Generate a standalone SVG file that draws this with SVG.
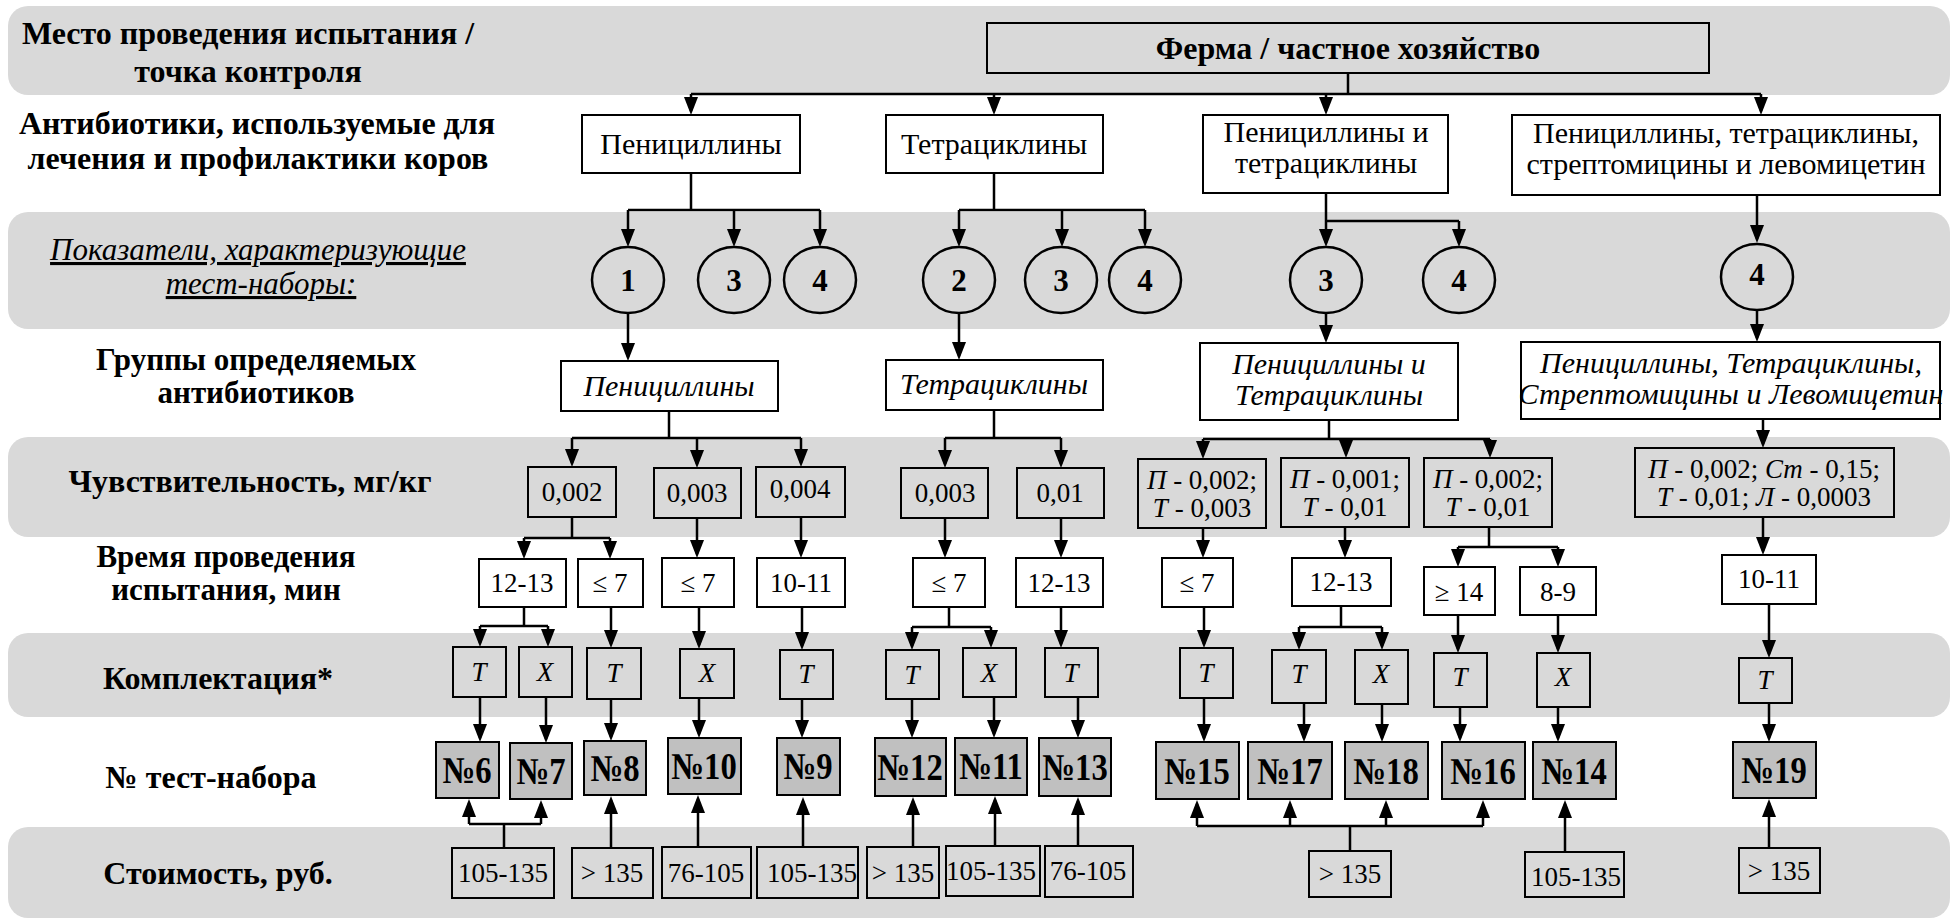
<svg xmlns="http://www.w3.org/2000/svg" width="1950" height="919" viewBox="0 0 1950 919">
<style>
.band{fill:#d9d9d9}
.box{fill:none;stroke:#000;stroke-width:2}
.num{fill:#c0c0c0;stroke:#000;stroke-width:2}
.ring{fill:none;stroke:#000;stroke-width:2.5}
.wire{fill:none;stroke:#000;stroke-width:2.5}
.arr{marker-end:url(#ah)}
text{font-family:"Liberation Serif","Times New Roman",serif;fill:#000}
.lbl{font-weight:bold;font-size:32px;text-anchor:middle}
.lbl2{font-weight:bold;font-size:31px;text-anchor:middle}
.cap{font-style:italic;font-size:31px;text-anchor:middle;text-decoration:underline}
.t{font-size:27px;text-anchor:middle}
.w{font-size:30px;text-anchor:middle}
.i{font-style:italic}
.b{font-weight:bold;font-size:32px;text-anchor:middle}
.d{font-weight:bold;font-size:31px;text-anchor:middle}
.nt{font-weight:bold;font-size:38px;text-anchor:middle}
</style>
<defs>
<marker id="ah" viewBox="0 0 18 14" markerWidth="18" markerHeight="14" refX="14" refY="7" orient="auto" markerUnits="userSpaceOnUse">
<path d="M0,0 L18,7 L0,14 z" fill="#000"/>
</marker>
</defs>

<!-- row bands -->
<g id="bands">
<rect class="band" x="8" y="6" width="1942" height="89" rx="20"/>
<rect class="band" x="8" y="212" width="1942" height="117" rx="20"/>
<rect class="band" x="8" y="437" width="1942" height="100" rx="20"/>
<rect class="band" x="8" y="633" width="1942" height="84" rx="20"/>
<rect class="band" x="8" y="827" width="1942" height="91" rx="20"/>
</g>

<!-- row captions -->
<g id="captions">
<text class="lbl" x="248" y="44">Место проведения испытания /</text>
<text class="lbl" x="248" y="82">точка контроля</text>
<text class="lbl" x="257" y="134">Антибиотики, используемые для</text>
<text class="lbl" x="258" y="169">лечения и профилактики коров</text>
<text class="cap" x="258" y="260">Показатели, характеризующие</text>
<text class="cap" x="261" y="294">тест-наборы:</text>
<text class="lbl2" x="256" y="370">Группы определяемых</text>
<text class="lbl2" x="256" y="403">антибиотиков</text>
<text class="lbl" x="250" y="492">Чувствительность, мг/кг</text>
<text class="lbl2" x="226" y="567">Время проведения</text>
<text class="lbl2" x="226" y="600">испытания, мин</text>
<text class="lbl" x="218" y="689">Комплектация*</text>
<text class="lbl" x="211" y="788">№ тест-набора</text>
<text class="lbl" x="218" y="884">Стоимость, руб.</text>
</g>

<!-- connectors -->
<g id="connectors" class="wire">
<path d="M1348,73 V94 M691,94 H1761"/>
<path class="arr" d="M691,94 V111"/>
<path class="arr" d="M994,94 V111"/>
<path class="arr" d="M1326,94 V111"/>
<path class="arr" d="M1761,94 V111"/>

<path d="M691,173 V210 M628,210 H820 M994,173 V210 M959,210 H1145 M1326,221 H1459"/>
<path class="arr" d="M628,210 V243"/>
<path class="arr" d="M734,210 V243"/>
<path class="arr" d="M820,210 V243"/>
<path class="arr" d="M959,210 V243"/>
<path class="arr" d="M1062,210 V243"/>
<path class="arr" d="M1145,210 V243"/>
<path class="arr" d="M1326,193 V243"/>
<path class="arr" d="M1459,221 V243"/>
<path class="arr" d="M1757,195 V239"/>

<path class="arr" d="M628,313 V357"/>
<path class="arr" d="M959,313 V356"/>
<path class="arr" d="M1326,313 V339"/>
<path class="arr" d="M1757,310 V338"/>

<path d="M669,411 V438 M572,438 H801 M994,410 V438 M945,438 H1061 M1329,420 V439 M1203,439 H1490"/>
<path class="arr" d="M572,438 V463"/>
<path class="arr" d="M697,438 V464"/>
<path class="arr" d="M801,438 V463"/>
<path class="arr" d="M945,438 V464"/>
<path class="arr" d="M1061,438 V464"/>
<path class="arr" d="M1203,439 V455"/>
<path class="arr" d="M1346,439 V454"/>
<path class="arr" d="M1490,439 V454"/>
<path class="arr" d="M1763,419 V444"/>

<path d="M572,517 V538 M524,538 H610 M1489,527 V547 M1458,547 H1558"/>
<path class="arr" d="M524,538 V555"/>
<path class="arr" d="M610,538 V555"/>
<path class="arr" d="M697,518 V554"/>
<path class="arr" d="M801,517 V554"/>
<path class="arr" d="M945,518 V554"/>
<path class="arr" d="M1061,518 V554"/>
<path class="arr" d="M1203,528 V554"/>
<path class="arr" d="M1345,527 V554"/>
<path class="arr" d="M1458,547 V563"/>
<path class="arr" d="M1558,547 V563"/>
<path class="arr" d="M1763,517 V551"/>

<path d="M524,607 V626 M480,626 H548 M949,607 V627 M912,627 H991 M1341,606 V627 M1299,627 H1382"/>
<path class="arr" d="M480,626 V643"/>
<path class="arr" d="M548,626 V643"/>
<path class="arr" d="M611,607 V644"/>
<path class="arr" d="M699,607 V645"/>
<path class="arr" d="M802,607 V646"/>
<path class="arr" d="M912,627 V646"/>
<path class="arr" d="M991,627 V644"/>
<path class="arr" d="M1061,607 V644"/>
<path class="arr" d="M1204,607 V644"/>
<path class="arr" d="M1299,627 V646"/>
<path class="arr" d="M1382,627 V646"/>
<path class="arr" d="M1458,615 V649"/>
<path class="arr" d="M1558,615 V649"/>
<path class="arr" d="M1769,604 V654"/>

<path class="arr" d="M480,697 V738"/>
<path class="arr" d="M546,697 V739"/>
<path class="arr" d="M611,699 V737"/>
<path class="arr" d="M699,698 V734"/>
<path class="arr" d="M802,699 V734"/>
<path class="arr" d="M912,699 V734"/>
<path class="arr" d="M994,697 V734"/>
<path class="arr" d="M1078,697 V734"/>
<path class="arr" d="M1204,698 V738"/>
<path class="arr" d="M1304,703 V738"/>
<path class="arr" d="M1382,704 V738"/>
<path class="arr" d="M1460,707 V738"/>
<path class="arr" d="M1558,707 V738"/>
<path class="arr" d="M1769,703 V738"/>

<path d="M504,848 V824 M469,824 H541 M1350,851 V826 M1197,826 H1483"/>
<path class="arr" d="M469,824 V803"/>
<path class="arr" d="M541,824 V804"/>
<path class="arr" d="M611,848 V800"/>
<path class="arr" d="M698,847 V799"/>
<path class="arr" d="M803,847 V801"/>
<path class="arr" d="M913,847 V801"/>
<path class="arr" d="M995,847 V800"/>
<path class="arr" d="M1078,847 V801"/>
<path class="arr" d="M1197,826 V804"/>
<path class="arr" d="M1290,826 V804"/>
<path class="arr" d="M1386,826 V804"/>
<path class="arr" d="M1483,826 V804"/>
<path class="arr" d="M1565,852 V804"/>
<path class="arr" d="M1769,848 V803"/>
</g>

<!-- place of testing -->
<g id="farm"><rect class="box" x="987" y="23" width="722" height="50"/><text class="b" x="1348" y="59">Ферма / частное хозяйство</text></g>

<!-- antibiotics in use -->
<g id="use-pen"><rect class="box" x="582" y="115" width="218" height="58"/><text class="w" x="691" y="154">Пенициллины</text></g>
<g id="use-tet"><rect class="box" x="886" y="115" width="217" height="58"/><text class="w" x="994" y="154">Тетрациклины</text></g>
<g id="use-pt"><rect class="box" x="1203" y="115" width="245" height="78"/><text class="w" x="1326" y="142">Пенициллины и</text><text class="w" x="1326" y="173">тетрациклины</text></g>
<g id="use-all"><rect class="box" x="1512" y="115" width="428" height="80"/><text class="w" x="1726" y="143">Пенициллины, тетрациклины,</text><text class="w" x="1726" y="174">стрептомицины и левомицетин</text></g>

<!-- indicators -->
<g id="ind-1a"><ellipse class="ring" cx="628" cy="280" rx="36" ry="33"/><text class="d" x="628" y="291">1</text></g>
<g id="ind-3a"><ellipse class="ring" cx="734" cy="280" rx="36" ry="33"/><text class="d" x="734" y="291">3</text></g>
<g id="ind-4a"><ellipse class="ring" cx="820" cy="280" rx="36" ry="33"/><text class="d" x="820" y="291">4</text></g>
<g id="ind-2b"><ellipse class="ring" cx="959" cy="280" rx="36" ry="33"/><text class="d" x="959" y="291">2</text></g>
<g id="ind-3b"><ellipse class="ring" cx="1061" cy="280" rx="36" ry="33"/><text class="d" x="1061" y="291">3</text></g>
<g id="ind-4b"><ellipse class="ring" cx="1145" cy="280" rx="36" ry="33"/><text class="d" x="1145" y="291">4</text></g>
<g id="ind-3c"><ellipse class="ring" cx="1326" cy="280" rx="36" ry="33"/><text class="d" x="1326" y="291">3</text></g>
<g id="ind-4c"><ellipse class="ring" cx="1459" cy="280" rx="36" ry="33"/><text class="d" x="1459" y="291">4</text></g>
<g id="ind-4d"><ellipse class="ring" cx="1757" cy="277" rx="36" ry="33"/><text class="d" x="1757" y="285">4</text></g>

<!-- detected groups -->
<g id="grp-pen"><rect class="box" x="561" y="361" width="217" height="50"/><text class="w i" x="669" y="396">Пенициллины</text></g>
<g id="grp-tet"><rect class="box" x="886" y="360" width="217" height="50"/><text class="w i" x="994" y="394">Тетрациклины</text></g>
<g id="grp-pt"><rect class="box" x="1200" y="343" width="258" height="77"/><text class="w i" x="1329" y="374">Пенициллины и</text><text class="w i" x="1329" y="405">Тетрациклины</text></g>
<g id="grp-all"><rect class="box" x="1521" y="342" width="419" height="77"/><text class="w i" x="1731" y="373">Пенициллины, Тетрациклины,</text><text class="w i" x="1731" y="404">Стрептомицины и Левомицетин</text></g>

<!-- sensitivity -->
<g id="sens-1"><rect class="box" x="528" y="467" width="88" height="50"/><text class="t" x="572" y="501">0,002</text></g>
<g id="sens-2"><rect class="box" x="654" y="468" width="87" height="50"/><text class="t" x="697" y="502">0,003</text></g>
<g id="sens-3"><rect class="box" x="756" y="467" width="89" height="50"/><text class="t" x="800" y="498">0,004</text></g>
<g id="sens-4"><rect class="box" x="901" y="468" width="87" height="50"/><text class="t" x="945" y="502">0,003</text></g>
<g id="sens-5"><rect class="box" x="1017" y="468" width="87" height="50"/><text class="t" x="1060" y="502">0,01</text></g>
<g id="sens-6"><rect class="box" x="1138" y="459" width="128" height="69"/><text class="t" x="1202" y="489"><tspan class="i">П</tspan> - 0,002;</text><text class="t" x="1202" y="517"><tspan class="i">Т</tspan> - 0,003</text></g>
<g id="sens-7"><rect class="box" x="1281" y="458" width="128" height="69"/><text class="t" x="1345" y="488"><tspan class="i">П</tspan> - 0,001;</text><text class="t" x="1345" y="516"><tspan class="i">Т</tspan> - 0,01</text></g>
<g id="sens-8"><rect class="box" x="1424" y="458" width="128" height="69"/><text class="t" x="1488" y="488"><tspan class="i">П</tspan> - 0,002;</text><text class="t" x="1488" y="516"><tspan class="i">Т</tspan> - 0,01</text></g>
<g id="sens-9"><rect class="box" x="1635" y="448" width="259" height="69"/><text class="t" x="1764" y="478"><tspan class="i">П</tspan> - 0,002; <tspan class="i">Ст</tspan> - 0,15;</text><text class="t" x="1764" y="506"><tspan class="i">Т</tspan> - 0,01; <tspan class="i">Л</tspan> - 0,0003</text></g>

<!-- test duration -->
<g id="time-1"><rect class="box" x="479" y="559" width="87" height="48"/><text class="t" x="522" y="592">12-13</text></g>
<g id="time-2"><rect class="box" x="578" y="559" width="65" height="48"/><text class="t" x="610" y="592">≤ 7</text></g>
<g id="time-3"><rect class="box" x="662" y="558" width="72" height="49"/><text class="t" x="698" y="592">≤ 7</text></g>
<g id="time-4"><rect class="box" x="757" y="558" width="88" height="49"/><text class="t" x="801" y="592">10-11</text></g>
<g id="time-5"><rect class="box" x="913" y="558" width="72" height="49"/><text class="t" x="949" y="592">≤ 7</text></g>
<g id="time-6"><rect class="box" x="1016" y="558" width="87" height="49"/><text class="t" x="1059" y="592">12-13</text></g>
<g id="time-7"><rect class="box" x="1162" y="558" width="71" height="49"/><text class="t" x="1197" y="592">≤ 7</text></g>
<g id="time-8"><rect class="box" x="1292" y="558" width="99" height="48"/><text class="t" x="1341" y="591">12-13</text></g>
<g id="time-9"><rect class="box" x="1424" y="567" width="71" height="48"/><text class="t" x="1459" y="601">≥ 14</text></g>
<g id="time-10"><rect class="box" x="1520" y="567" width="76" height="48"/><text class="t" x="1558" y="601">8-9</text></g>
<g id="time-11"><rect class="box" x="1722" y="555" width="94" height="49"/><text class="t" x="1769" y="588">10-11</text></g>

<!-- kit type -->
<g id="kit-1"><rect class="box" x="453" y="647" width="53" height="50"/><text class="t i" x="479" y="681">T</text></g>
<g id="kit-2"><rect class="box" x="519" y="647" width="53" height="50"/><text class="t i" x="545" y="681">X</text></g>
<g id="kit-3"><rect class="box" x="587" y="648" width="54" height="51"/><text class="t i" x="614" y="682">T</text></g>
<g id="kit-4"><rect class="box" x="680" y="649" width="54" height="49"/><text class="t i" x="707" y="682">X</text></g>
<g id="kit-5"><rect class="box" x="780" y="650" width="53" height="49"/><text class="t i" x="806" y="683">T</text></g>
<g id="kit-6"><rect class="box" x="886" y="650" width="53" height="49"/><text class="t i" x="912" y="684">T</text></g>
<g id="kit-7"><rect class="box" x="963" y="648" width="53" height="49"/><text class="t i" x="989" y="682">X</text></g>
<g id="kit-8"><rect class="box" x="1045" y="648" width="53" height="49"/><text class="t i" x="1071" y="682">T</text></g>
<g id="kit-9"><rect class="box" x="1180" y="648" width="53" height="50"/><text class="t i" x="1206" y="682">T</text></g>
<g id="kit-10"><rect class="box" x="1272" y="650" width="54" height="53"/><text class="t i" x="1299" y="683">T</text></g>
<g id="kit-11"><rect class="box" x="1355" y="650" width="53" height="54"/><text class="t i" x="1381" y="683">X</text></g>
<g id="kit-12"><rect class="box" x="1434" y="653" width="53" height="54"/><text class="t i" x="1460" y="686">T</text></g>
<g id="kit-13"><rect class="box" x="1537" y="653" width="53" height="54"/><text class="t i" x="1563" y="686">X</text></g>
<g id="kit-14"><rect class="box" x="1739" y="658" width="53" height="45"/><text class="t i" x="1765" y="689">T</text></g>

<!-- test kit numbers (bold, slightly condensed) -->
<g id="kit-no6"><rect class="num" x="436" y="742" width="63" height="56"/><text class="nt" transform="translate(467,783) scale(0.86,1)">№6</text></g>
<g id="kit-no7"><rect class="num" x="510" y="743" width="62" height="56"/><text class="nt" transform="translate(541,784) scale(0.86,1)">№7</text></g>
<g id="kit-no8"><rect class="num" x="584" y="741" width="62" height="54"/><text class="nt" transform="translate(615,781) scale(0.86,1)">№8</text></g>
<g id="kit-no10"><rect class="num" x="668" y="738" width="73" height="56"/><text class="nt" transform="translate(704,779) scale(0.86,1)">№10</text></g>
<g id="kit-no9"><rect class="num" x="777" y="738" width="63" height="57"/><text class="nt" transform="translate(808,779) scale(0.86,1)">№9</text></g>
<g id="kit-no12"><rect class="num" x="875" y="738" width="71" height="58"/><text class="nt" transform="translate(910,780) scale(0.86,1)">№12</text></g>
<g id="kit-no11"><rect class="num" x="955" y="738" width="72" height="57"/><text class="nt" transform="translate(991,779) scale(0.86,1)">№11</text></g>
<g id="kit-no13"><rect class="num" x="1039" y="738" width="72" height="58"/><text class="nt" transform="translate(1075,780) scale(0.86,1)">№13</text></g>
<g id="kit-no15"><rect class="num" x="1156" y="742" width="83" height="57"/><text class="nt" transform="translate(1197,784) scale(0.86,1)">№15</text></g>
<g id="kit-no17"><rect class="num" x="1248" y="742" width="84" height="57"/><text class="nt" transform="translate(1290,784) scale(0.86,1)">№17</text></g>
<g id="kit-no18"><rect class="num" x="1345" y="742" width="83" height="57"/><text class="nt" transform="translate(1386,784) scale(0.86,1)">№18</text></g>
<g id="kit-no16"><rect class="num" x="1442" y="742" width="83" height="57"/><text class="nt" transform="translate(1483,784) scale(0.86,1)">№16</text></g>
<g id="kit-no14"><rect class="num" x="1533" y="742" width="83" height="57"/><text class="nt" transform="translate(1574,784) scale(0.86,1)">№14</text></g>
<g id="kit-no19"><rect class="num" x="1733" y="742" width="83" height="56"/><text class="nt" transform="translate(1774,783) scale(0.86,1)">№19</text></g>

<!-- cost -->
<g id="cost-1"><rect class="box" x="452" y="848" width="102" height="50"/><text class="t" x="503" y="882">105-135</text></g>
<g id="cost-2"><rect class="box" x="572" y="848" width="81" height="50"/><text class="t" x="612" y="882">&gt; 135</text></g>
<g id="cost-3"><rect class="box" x="662" y="847" width="89" height="51"/><text class="t" x="706" y="882">76-105</text></g>
<g id="cost-4"><rect class="box" x="757" y="847" width="101" height="51"/><text class="t" x="812" y="882">105-135</text></g>
<g id="cost-5"><rect class="box" x="867" y="847" width="72" height="51"/><text class="t" x="903" y="882">&gt; 135</text></g>
<g id="cost-6"><rect class="box" x="946" y="846" width="94" height="50"/><text class="t" x="991" y="880">105-135</text></g>
<g id="cost-7"><rect class="box" x="1045" y="846" width="88" height="51"/><text class="t" x="1088" y="880">76-105</text></g>
<g id="cost-8"><rect class="box" x="1309" y="851" width="82" height="46"/><text class="t" x="1350" y="883">&gt; 135</text></g>
<g id="cost-9"><rect class="box" x="1525" y="852" width="99" height="45"/><text class="t" x="1576" y="886">105-135</text></g>
<g id="cost-10"><rect class="box" x="1739" y="848" width="81" height="45"/><text class="t" x="1779" y="880">&gt; 135</text></g>
</svg>
